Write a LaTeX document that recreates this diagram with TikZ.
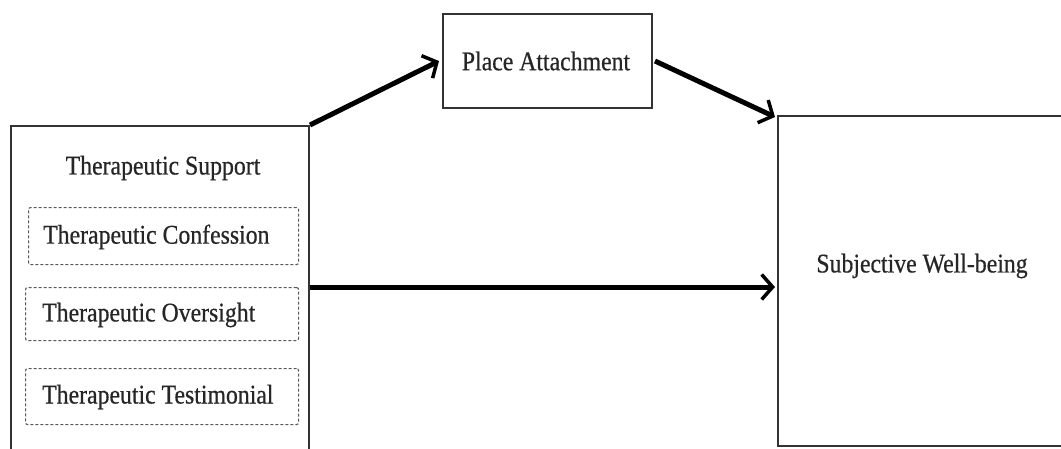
\documentclass[tikz,border=0pt]{standalone}
\usepackage{fontspec}
\setmainfont{Liberation Serif}
\newfontfamily\diafont[FakeStretch=0.88,FakeBold=0.6]{Liberation Serif}
\usetikzlibrary{arrows.meta}
\begin{document}
\begin{tikzpicture}[x=1pt,y=-1pt,
  box/.style={draw=black!80,line width=2pt,inner sep=0pt,fill=none},
  dbox/.style={draw=black!65,line width=1.1pt,dash pattern=on 3pt off 2pt,rounded corners=2pt,inner sep=0pt},
  lbl/.style={font=\diafont\fontsize{27}{31}\selectfont,text=black!85,inner sep=0pt},
  arr/.style={line width=5pt,-{Straight Barb[length=11pt,width=25pt,line width=3.5pt]}}]
\useasboundingbox (0,0) rectangle (1061,448);
% boxes
\node[box,minimum width=298pt,minimum height=340pt,anchor=north west] (ts) at (10,125) {};
\node[box,minimum width=209pt,minimum height=94pt,anchor=north west] (pa) at (442,13) {};
\node[box,minimum width=320pt,minimum height=330pt,anchor=north west] (swb) at (777,115) {};
\node[dbox,minimum width=270pt,minimum height=57pt,anchor=north west] (d1) at (28,207) {};
\node[dbox,minimum width=273pt,minimum height=53pt,anchor=north west] (d2) at (25,287) {};
\node[dbox,minimum width=273pt,minimum height=56pt,anchor=north west] (d3) at (25,368) {};
% labels
\node[lbl] (tsl) at (163,168) {Therapeutic Support};
\node[lbl,anchor=west] (d1l) at (43,237) {Therapeutic Confession};
\node[lbl,anchor=west] (d2l) at (42,315) {Therapeutic Oversight};
\node[lbl,anchor=west] (d3l) at (42,397) {Therapeutic Testimonial};
\node[lbl] (pal) at (546,61) {Place Attachment};
\node[lbl] (swbl) at (922,266) {Subjective Well-being};
% arrows
\coordinate (a3s) at (ts.east |- 0,287);
\coordinate (a3e) at (swb.west |- 0,287);
\draw[arr] (ts.north east) -- ([xshift=-3pt]pa.west);
\draw[arr] ([xshift=2pt]pa.east) -- ([xshift=-2pt,yshift=-2pt]swb.north west);
\draw[arr] (a3s) -- ([xshift=-2pt]a3e);
\end{tikzpicture}
\end{document}
